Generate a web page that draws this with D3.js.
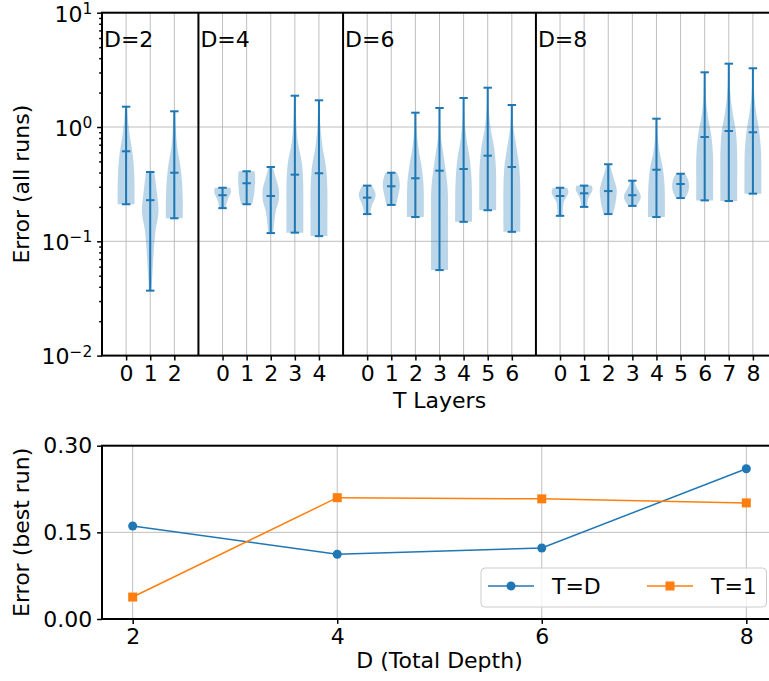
<!DOCTYPE html>
<html>
<head>
<meta charset="utf-8">
<script src="https://cdn.jsdelivr.net/npm/d3@7"></script>
<style>
  body { margin: 0; background: #fff; }
  svg { display: block; font-family: "DejaVu Sans", sans-serif; }
</style>
</head>
<body>
<div id="chart"></div>
<script>
// total depths, one group of violins per depth (T = 0..D)
var depths = [2, 4, 6, 8];

// error over all runs, per violin, in order D=2 T0..T2, D=4 T0..T4, ...
var errMin = [0.211, 0.037, 0.159,
    0.195, 0.211, 0.118, 0.119, 0.111,
    0.173, 0.208, 0.163, 0.056, 0.148, 0.187, 0.121,
    0.167, 0.200, 0.173, 0.204, 0.163, 0.239, 0.228, 0.225, 0.261];
var errMed = [0.613, 0.229, 0.398,
    0.253, 0.322, 0.249, 0.383, 0.394,
    0.241, 0.303, 0.356, 0.415, 0.429, 0.561, 0.447,
    0.249, 0.263, 0.275, 0.253, 0.423, 0.317, 0.818, 0.923, 0.899];
var errMax = [1.505, 0.404, 1.372,
    0.294, 0.410, 0.447, 1.878, 1.712,
    0.307, 0.398, 1.334, 1.466, 1.793, 2.207, 1.557,
    0.294, 0.307, 0.472, 0.339, 1.182, 0.390, 3.01, 3.58, 3.264];
// relative violin width, from min (first) to max (last)
var errShape = [
    [1.0, 1.0, 0.95, 0.8, 0.5, 0.25, 0.12],
    [0.15, 0.28, 0.42, 0.62, 0.98, 0.78, 0.5],
    [1.0, 1.0, 0.92, 0.7, 0.35, 0.18, 0.1],

    [0.42, 0.45, 0.55, 0.7, 0.9, 1.0, 0.9],
    [0.65, 0.8, 0.9, 0.95, 1.0, 1.0, 0.95],
    [0.3, 0.42, 0.6, 0.95, 0.95, 0.6, 0.25],
    [1.0, 1.0, 1.0, 0.85, 0.35, 0.15, 0.08],
    [1.0, 1.0, 1.0, 0.85, 0.4, 0.15, 0.08],

    [0.35, 0.45, 0.6, 0.85, 1.0, 0.85, 0.55],
    [0.6, 0.72, 0.85, 0.98, 1.0, 0.9, 0.7],
    [1.0, 1.0, 0.95, 0.7, 0.35, 0.15, 0.08],
    [1.0, 1.0, 1.0, 0.97, 0.6, 0.15, 0.07],
    [1.0, 1.0, 0.95, 0.75, 0.35, 0.12, 0.07],
    [1.0, 1.0, 0.98, 0.78, 0.35, 0.12, 0.07],
    [1.0, 1.0, 1.0, 0.9, 0.55, 0.18, 0.08],

    [0.3, 0.32, 0.36, 0.45, 0.75, 1.0, 0.85],
    [0.35, 0.38, 0.45, 0.6, 0.85, 1.0, 0.9],
    [0.55, 0.8, 0.95, 1.0, 0.75, 0.45, 0.2],
    [0.45, 0.8, 1.0, 0.9, 0.6, 0.4, 0.25],
    [1.0, 1.0, 0.95, 0.75, 0.35, 0.15, 0.08],
    [0.55, 0.8, 0.95, 1.0, 0.95, 0.8, 0.55],
    [1.0, 1.0, 1.0, 0.8, 0.35, 0.12, 0.07],
    [1.0, 1.0, 1.0, 0.85, 0.4, 0.12, 0.07],
    [1.0, 1.0, 0.97, 0.75, 0.35, 0.12, 0.07]
];
var logTicks = [0.01, 0.1, 1, 10];

// best run per depth
var bestD = [2, 4, 6, 8];
var bestTD = [0.161, 0.112, 0.123, 0.260];
var bestT1 = [0.038, 0.210, 0.208, 0.201];
var bestTicks = [0, 0.15, 0.30];

var width = 769, height = 681;
var blue = "#1f77b4", orange = "#ff7f0e", gridCol = "#b0b0b0";
var fs = 22;

var svg = d3.select("#chart").append("svg")
    .attr("width", width)
    .attr("height", height);

// layout: x positions for violins, dividers between depth groups
var violins = [], dividers = [-1], pos = 0, k = 0;
depths.forEach(function (D, gi) {
    for (var t = 0; t <= D; t++) {
        violins.push({D: D, T: t, pos: pos, min: errMin[k], med: errMed[k], max: errMax[k], shape: errShape[k]});
        pos++; k++;
    }
    if (gi < depths.length - 1) { dividers.push(pos); pos++; }
});

var L = 102, R = 777;
var top1 = 12.7, bot1 = 355.6;
var top2 = 445.7, bot2 = 619;

var x1 = d3.scaleLinear().domain([-1, 27]).range([L, R]);
var y1 = d3.scaleLog().domain([0.01, 10]).range([bot1, top1]);
var x2 = d3.scaleLinear().domain([1.7, 8.3]).range([L, R]);
var y2 = d3.scaleLinear().domain([0, 0.30]).range([bot2, top2]);

//---------------- top panel: violins ----------------
var g1 = svg.append("g");

// grid
g1.selectAll("line.vgrid").data(violins).enter().append("line")
    .attr("x1", function (d) { return x1(d.pos); })
    .attr("x2", function (d) { return x1(d.pos); })
    .attr("y1", top1).attr("y2", bot1)
    .style("stroke", gridCol).style("stroke-width", 1).style("opacity", 0.8);
g1.selectAll("line.hgrid").data(logTicks).enter().append("line")
    .attr("x1", L).attr("x2", R)
    .attr("y1", function (d) { return y1(d); })
    .attr("y2", function (d) { return y1(d); })
    .style("stroke", gridCol).style("stroke-width", 1).style("opacity", 0.8);

// violin bodies
var halfW = x1(0.35) - x1(0);
var area = d3.area()
    .x0(function (p) { return p.cx - p.w * halfW; })
    .x1(function (p) { return p.cx + p.w * halfW; })
    .y(function (p) { return p.y; })
    .curve(d3.curveCatmullRom.alpha(0.5));

violins.forEach(function (v) {
    var lo = Math.log10(v.min), hi = Math.log10(v.max), n = v.shape.length - 1;
    var pts = v.shape.map(function (w, i) {
        return {cx: x1(v.pos), w: w, y: y1(Math.pow(10, lo + (hi - lo) * i / n))};
    });
    g1.append("path").attr("d", area(pts))
        .style("fill", blue).style("fill-opacity", 0.3).style("stroke", "none");
});

// bars, caps, medians
var capW = x1(0.175) - x1(0);
var lines = g1.append("g").style("stroke", blue).style("stroke-width", 2);
violins.forEach(function (v) {
    var cx = x1(v.pos);
    lines.append("line").attr("x1", cx).attr("x2", cx).attr("y1", y1(v.min)).attr("y2", y1(v.max));
    [v.min, v.med, v.max].forEach(function (val) {
        lines.append("line").attr("x1", cx - capW).attr("x2", cx + capW)
            .attr("y1", y1(val)).attr("y2", y1(val));
    });
});

// depth dividers and labels
g1.selectAll("line.div").data(dividers.slice(1)).enter().append("line")
    .attr("x1", function (d) { return x1(d); })
    .attr("x2", function (d) { return x1(d); })
    .attr("y1", top1).attr("y2", bot1)
    .style("stroke", "black").style("stroke-width", 2);
g1.selectAll("text.dlab").data(depths).enter().append("text")
    .attr("x", function (d, i) { return x1(dividers[i]) + 2; })
    .attr("y", y1(5))
    .style("font-size", fs + "px")
    .text(function (d) { return "D=" + d; });

// axes
var xAxis1 = d3.axisBottom(x1)
    .tickValues(violins.map(function (v) { return v.pos; }))
    .tickFormat(function (p) { return violins.find(function (v) { return v.pos === p; }).T; })
    .tickSize(4.9).tickPadding(4.9);
g1.append("g").attr("transform", "translate(0," + bot1 + ")").call(xAxis1);

var minor = [];
[0.01, 0.1, 1].forEach(function (b) {
    for (var m = 2; m <= 9; m++) minor.push(b * m);
});
g1.append("g").attr("transform", "translate(" + L + ",0)")
    .call(d3.axisLeft(y1).tickValues(minor).tickFormat("").tickSize(2.8));
var yAxis1 = g1.append("g").attr("transform", "translate(" + L + ",0)")
    .call(d3.axisLeft(y1).tickValues(logTicks).tickFormat("").tickSize(4.9).tickPadding(4.9));
yAxis1.selectAll(".tick text").each(function (d) {
    var e = Math.round(Math.log10(d));
    var t = d3.select(this).attr("dy", "0.38em");
    t.append("tspan").text("10");
    t.append("tspan").attr("dy", "-0.5em").style("font-size", (fs * 0.7) + "px")
        .text(e < 0 ? "\u2212" + (-e) : "" + e);
});

g1.append("rect").attr("x", L).attr("y", top1).attr("width", R - L).attr("height", bot1 - top1)
    .style("fill", "none").style("stroke", "black").style("stroke-width", 2);

g1.append("text").attr("x", (L + R) / 2).attr("y", 408)
    .attr("text-anchor", "middle").style("font-size", fs + "px").text("T Layers");
g1.append("text").attr("transform", "translate(29," + ((top1 + bot1) / 2) + ") rotate(-90)")
    .attr("text-anchor", "middle").style("font-size", fs + "px").text("Error (all runs)");

//---------------- bottom panel: best run ----------------
var g2 = svg.append("g");

g2.selectAll("line.vgrid").data(bestD).enter().append("line")
    .attr("x1", function (d) { return x2(d); })
    .attr("x2", function (d) { return x2(d); })
    .attr("y1", top2).attr("y2", bot2)
    .style("stroke", gridCol).style("stroke-width", 1).style("opacity", 0.8);
g2.selectAll("line.hgrid").data(bestTicks).enter().append("line")
    .attr("x1", L).attr("x2", R)
    .attr("y1", function (d) { return y2(d); })
    .attr("y2", function (d) { return y2(d); })
    .style("stroke", gridCol).style("stroke-width", 1).style("opacity", 0.8);

var line = d3.line()
    .x(function (d) { return x2(d[0]); })
    .y(function (d) { return y2(d[1]); });

var tdPts = d3.zip(bestD, bestTD), t1Pts = d3.zip(bestD, bestT1);
g2.append("path").attr("d", line(tdPts))
    .style("fill", "none").style("stroke", blue).style("stroke-width", 1.5);
g2.selectAll("circle.td").data(tdPts).enter().append("circle")
    .attr("cx", function (d) { return x2(d[0]); })
    .attr("cy", function (d) { return y2(d[1]); })
    .attr("r", 4.5).style("fill", blue);
g2.append("path").attr("d", line(t1Pts))
    .style("fill", "none").style("stroke", orange).style("stroke-width", 1.5);
g2.selectAll("rect.t1").data(t1Pts).enter().append("rect")
    .attr("x", function (d) { return x2(d[0]) - 4.5; })
    .attr("y", function (d) { return y2(d[1]) - 4.5; })
    .attr("width", 9).attr("height", 9).style("fill", orange);

g2.append("g").attr("transform", "translate(0," + bot2 + ")")
    .call(d3.axisBottom(x2).tickValues(bestD).tickFormat(d3.format("d")).tickSize(4.9).tickPadding(4.9));
g2.append("g").attr("transform", "translate(" + L + ",0)")
    .call(d3.axisLeft(y2).tickValues(bestTicks).tickFormat(d3.format(".2f")).tickSize(4.9).tickPadding(4.9));

g2.append("rect").attr("x", L).attr("y", top2).attr("width", R - L).attr("height", bot2 - top2)
    .style("fill", "none").style("stroke", "black").style("stroke-width", 2);

// legend
var lg = g2.append("g");
lg.append("rect").attr("x", 481).attr("y", 568).attr("width", 285.5).attr("height", 39)
    .attr("rx", 4).style("fill", "white").style("fill-opacity", 0.8)
    .style("stroke", "#cccccc").style("stroke-width", 1);
var legendItems = [
    {label: "T=D", color: blue, shape: "circle", x: 488},
    {label: "T=1", color: orange, shape: "square", x: 647}
];
legendItems.forEach(function (it) {
    var yy = 586;
    lg.append("line").attr("x1", it.x).attr("x2", it.x + 46).attr("y1", yy).attr("y2", yy)
        .style("stroke", it.color).style("stroke-width", 1.5);
    if (it.shape === "circle") {
        lg.append("circle").attr("cx", it.x + 23).attr("cy", yy).attr("r", 4.5).style("fill", it.color);
    } else {
        lg.append("rect").attr("x", it.x + 18.5).attr("y", yy - 4.5).attr("width", 9).attr("height", 9)
            .style("fill", it.color);
    }
    lg.append("text").attr("x", it.x + 64).attr("y", yy + 8)
        .style("font-size", fs + "px").text(it.label);
});

g2.append("text").attr("x", (L + R) / 2).attr("y", 668)
    .attr("text-anchor", "middle").style("font-size", fs + "px").text("D (Total Depth)");
g2.append("text").attr("transform", "translate(29," + ((top2 + bot2) / 2) + ") rotate(-90)")
    .attr("text-anchor", "middle").style("font-size", fs + "px").text("Error (best run)");

// axis styling
svg.selectAll(".domain").remove();
svg.selectAll(".tick line").style("stroke", "black").style("stroke-width", 1.5);
svg.selectAll(".tick text").style("font-size", fs + "px").style("font-family", "DejaVu Sans").style("fill", "black");
</script>
</body>
</html>
